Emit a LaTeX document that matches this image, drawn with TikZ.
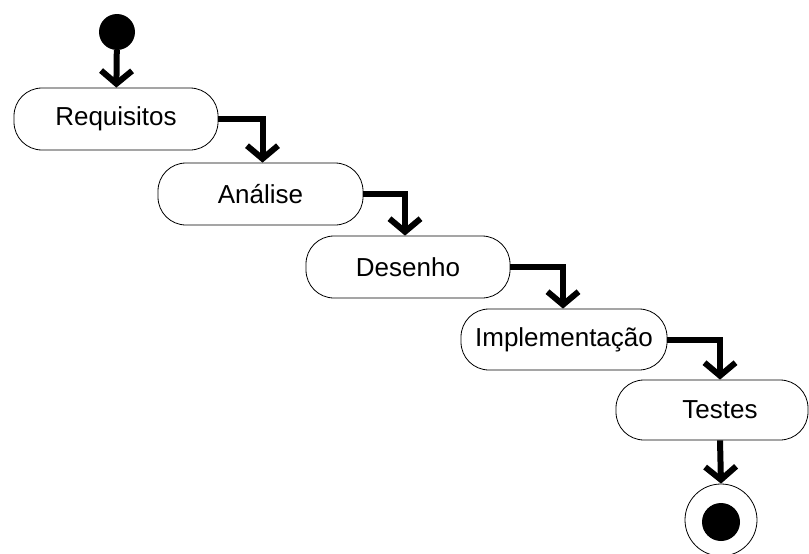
\documentclass[tikz,border=0pt]{standalone}
\usepackage{fontspec}
\setmainfont{Liberation Sans}
\usetikzlibrary{arrows.meta}
\begin{document}
\begin{tikzpicture}[x=1pt,y=-1pt,
  activity/.style={draw=black, line width=0.8pt, rounded corners=28pt,
    minimum height=62pt, inner sep=0pt, fill=white,
    font=\fontsize{26}{30}\selectfont},
  flow/.style={line width=6pt, -{Straight Barb[length=13pt,width=31pt]}},
  startdot/.style={circle, fill=black, minimum size=36pt, inner sep=0pt},
]
\useasboundingbox (0,0) rectangle (809,554);
% start state
\node[startdot] (start) at (117,32) {};
% activities of the waterfall
\node[activity, minimum width=204pt] (req)  at (116,119)   {Requisitos};
\node[activity, minimum width=205pt] (ana)  at (260.5,194) {Análise};
\node[activity, minimum width=204pt] (des)  at (408,267)   {Desenho};
\node[activity, minimum width=206pt, minimum height=61pt] (imp)  at (564,339.5) {Implementação};
\node[activity, minimum width=192pt, minimum height=60pt] (tst)  at (712,410)   {\hspace*{16pt}Testes};
% final state
\node[circle, draw=black, line width=0.8pt, minimum size=72pt, inner sep=0pt] (endring) at (721,520) {};
\node[circle, fill=black, minimum size=38pt, inner sep=0pt] (enddot) at (721,522) {};
% transitions
\draw[flow] (start) -- (req);
\draw[flow] (req.east) -| ([xshift=2pt]ana.north);
\draw[flow] (ana.east) -| ([xshift=-3pt]des.north);
\draw[flow] (des.east) -| ([xshift=-1pt]imp.north);
\draw[flow] (imp.east) -| ([xshift=8pt]tst.north);
\draw[flow] ([xshift=8pt]tst.south) -- (endring.north);
\end{tikzpicture}
\end{document}
